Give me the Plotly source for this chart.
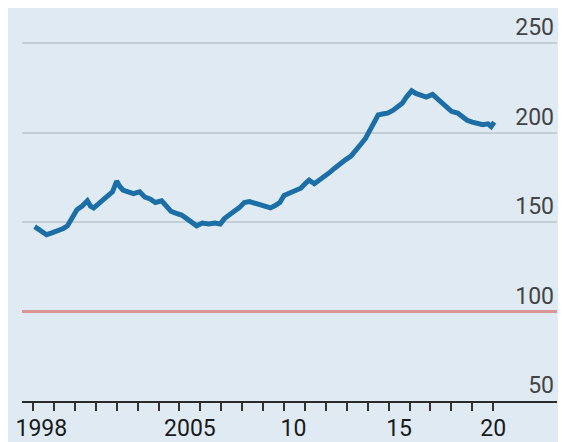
import plotly.graph_objects as go

# Data (fractional year, index value)
years = [1998.08, 1998.25, 1998.45, 1998.65, 1998.9, 1999.2, 1999.45, 1999.65, 1999.85,
         2000.1, 2000.35, 2000.6, 2000.75, 2000.9, 2001.1, 2001.35, 2001.6, 2001.8,
         2002.0, 2002.15, 2002.3, 2002.55, 2002.8, 2003.1, 2003.35, 2003.6, 2003.85,
         2004.15, 2004.35, 2004.6, 2004.85, 2005.1, 2005.35, 2005.6, 2005.82,
         2006.1, 2006.4, 2006.7, 2006.95, 2007.15, 2007.4, 2007.6, 2007.85,
         2008.1, 2008.35, 2008.6, 2008.85, 2009.1, 2009.35, 2009.6, 2009.8,
         2010.0, 2010.3, 2010.55, 2010.8, 2011.05, 2011.2, 2011.45, 2011.7, 2011.9,
         2012.2, 2012.45, 2012.7, 2012.95, 2013.2, 2013.45, 2013.7, 2013.9,
         2014.1, 2014.3, 2014.5, 2014.7, 2014.95, 2015.2, 2015.45, 2015.65, 2015.85,
         2016.1, 2016.3, 2016.55, 2016.8, 2017.1, 2017.3, 2017.55, 2017.8,
         2018.0, 2018.3, 2018.55, 2018.75, 2019.0, 2019.25, 2019.5, 2019.75, 2019.9, 2020.05]
values = [147.5, 146, 144, 143, 144, 145, 146.5, 148, 152,
          157, 159, 162, 159, 158, 160, 163, 165, 167,
          173, 170, 168, 167, 166, 167, 164, 163, 161,
          162, 159, 156, 155, 154, 152, 150, 148,
          149.5, 149, 149.5, 149, 152, 154.5, 156, 158,
          161, 161.5, 160.5, 159.5, 159, 158, 159.5, 161,
          165, 166.5, 168, 169, 172, 173.5, 171.5, 173.5, 175.5,
          178, 180.5, 183, 185, 187, 190, 194, 197,
          201, 206, 210, 210.5, 211, 212.5, 214.5, 216.5, 220,
          223.5, 222, 221, 220, 221.5, 219.5, 216.5, 214,
          212, 211, 209, 207, 206, 205, 204.5, 205, 203.5, 206]

year_ticks = list(range(1998, 2021))
label_pos = [1998.4, 2005.5, 2010.45, 2015.5, 2020.0]
label_text = ["1998", "2005", "10", "15", "20"]
y_ticks = [50, 100, 150, 200, 250]
y_labels = ["50", "100", "150", "200", "250"]
baseline = 100

FONT = "Roboto, Liberation Sans, sans-serif"
BG = "#dfeaf3"

fig = go.Figure()
fig.add_trace(go.Scatter(x=years, y=values, mode="lines",
                         line=dict(color="#1b6ea6", width=5), hoverinfo="skip"))

fig.add_shape(type="line", xref="paper", yref="y", x0=0, x1=1, y0=baseline, y1=baseline,
              line=dict(color="#d99696", width=3), layer="above")

fig.update_layout(
    width=558, height=434,
    margin=dict(l=14, r=9, t=0, b=41),
    paper_bgcolor=BG, plot_bgcolor=BG,
    showlegend=False,
    font=dict(family=FONT, size=23, color="#1a1a1a"),
    xaxis=dict(
        range=[1997.474, 2023.048], automargin=False,
        tickmode="array", tickvals=label_pos, ticktext=label_text,
        ticks="", showgrid=False, zeroline=False,
        showline=True, linecolor="#2a2a2a", linewidth=2,
        ticklabelstandoff=5,
        minor=dict(tickmode="array", tickvals=year_ticks, ticks="outside",
                   ticklen=8, tickwidth=2, tickcolor="#333333", showgrid=False),
    ),
    yaxis=dict(
        range=[50, 269.8], side="right", automargin=False,
        tickmode="array", tickvals=y_ticks, ticktext=y_labels,
        ticklabelposition="inside top", ticks="",
        showgrid=True, gridcolor="#c3ced6", gridwidth=2,
        zeroline=False, showline=False,
    ),
)

fig.write_html("out.html")
